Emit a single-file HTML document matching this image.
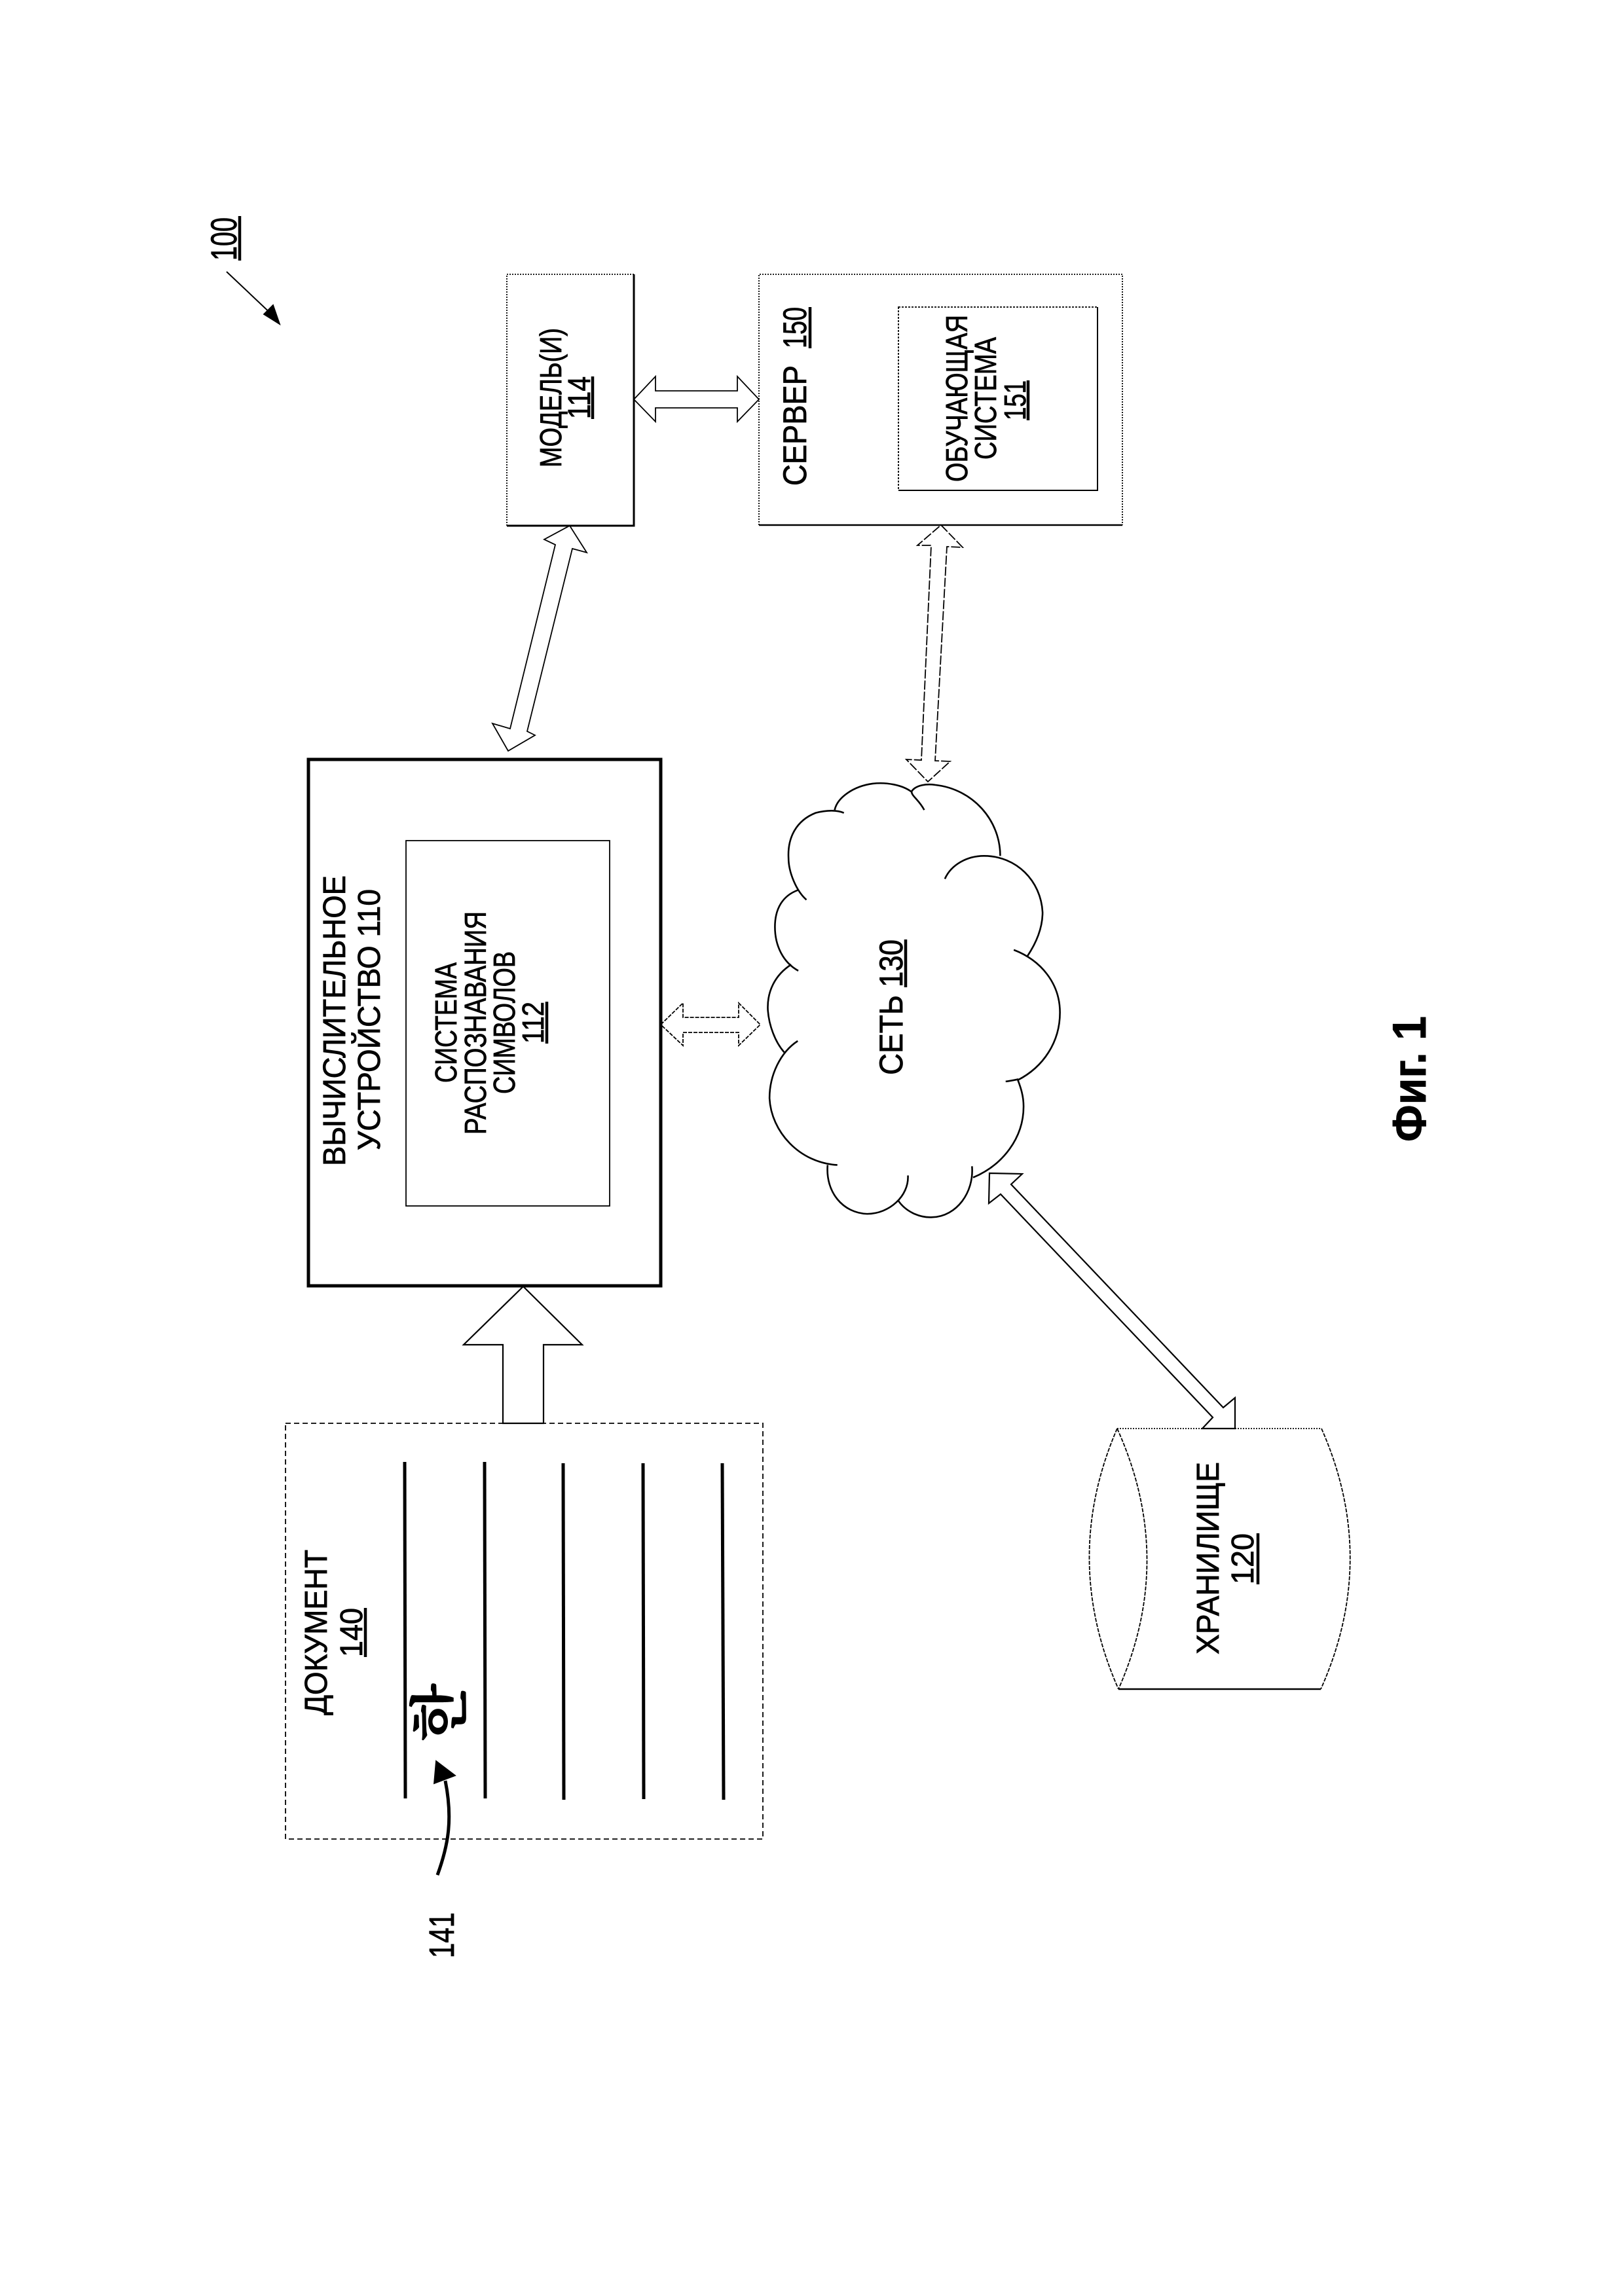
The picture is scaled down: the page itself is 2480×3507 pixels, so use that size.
<!DOCTYPE html>
<html><head><meta charset="utf-8"><style>
html,body{margin:0;padding:0;background:#fff}
svg{display:block}
text{font-family:"Liberation Sans","Noto Sans CJK KR",sans-serif;fill:#000;stroke:#000;stroke-width:.8}
</style></head><body>
<svg width="2480" height="3507" viewBox="0 0 2480 3507" xmlns="http://www.w3.org/2000/svg">
<rect width="2480" height="3507" fill="#fff"/>
<g fill="none" stroke="#000" stroke-width="1.8">
<!-- 100 arrow -->
<line x1="346" y1="415" x2="420" y2="485" stroke-width="2"/>
<polygon points="427,495 403,480 417,466" fill="#000"/>
<!-- model box -->
<path d="M774,803V419H968" stroke-dasharray="2 2"/>
<path d="M968,419V803H774" stroke-width="3"/>
<!-- server box -->
<path d="M1159,802V419H1714V802" stroke-dasharray="2 2"/>
<path d="M1159,802H1714" stroke-width="2.5"/>
<rect x="1372" y="469" width="304" height="280" stroke-dasharray="3 2"/>
<path d="M1676,469V749H1372" stroke-width="2"/>
<!-- computing device -->
<rect x="471" y="1160" width="538" height="804" stroke-width="5"/>
<rect x="620" y="1284" width="311" height="558" stroke-width="1.8"/>
<!-- arrows -->
<polygon points="968,610 1001,575 1001,597 1126,597 1126,575 1159,610 1126,644 1126,623 1001,623 1001,644"/>
<polygon points="870,803 896,844 874,838 805,1117 817,1123 776,1147 752,1105 779,1113 848,832 831,824"/>
<polygon points="1437,802 1470,836 1446,835 1428,1162 1451,1163 1417,1194 1384,1160 1407,1161 1422,833 1401,833" stroke-dasharray="14 3"/>
<polygon points="1009,1565 1043,1532 1043,1554 1128,1554 1128,1532 1161,1565 1128,1597 1128,1577 1043,1577 1043,1597" stroke-dasharray="6 2"/>
<polygon points="1511,1792 1561,1793 1544,1809 1868,2150 1886,2135 1886,2182 1836,2182 1852,2165 1528,1824 1510,1838" stroke-width="2.2"/>
<polygon points="799,1965 889,2054 830,2054 830,2174 768,2174 768,2054 708,2054" stroke-width="2.2"/>
<!-- cloud -->
<g transform="translate(400,1100) scale(.829,.638)" stroke-width="2.6">
<path vector-effect="non-scaling-stroke" d="M1220,215 C1210,190 1195,180 1197,170 C1205,155 1225,152 1240,155 C1310,165 1360,240 1360,325"/>
<path vector-effect="non-scaling-stroke" d="M1197,172 C1180,155 1150,148 1125,152 C1090,158 1060,185 1055,215"/>
<path vector-effect="non-scaling-stroke" d="M1072,222 C1060,215 1040,215 1020,222 C985,240 968,280 970,330 C970,365 985,410 1003,430"/>
<path vector-effect="non-scaling-stroke" d="M987,407 C960,420 945,450 945,495 C945,540 960,580 988,600"/>
<path vector-effect="non-scaling-stroke" d="M975,585 C945,610 930,650 932,695 C934,730 945,770 962,795"/>
<path vector-effect="non-scaling-stroke" d="M987,768 C955,795 935,850 935,905 C938,985 990,1060 1060,1065"/>
<path vector-effect="non-scaling-stroke" d="M1042,1065 C1038,1130 1070,1180 1115,1182 C1155,1182 1192,1140 1190,1090"/>
<path vector-effect="non-scaling-stroke" d="M1172,1150 C1185,1175 1210,1192 1235,1190 C1280,1188 1312,1130 1308,1068"/>
<path vector-effect="non-scaling-stroke" d="M1310,1095 C1365,1065 1403,1000 1403,925 C1403,900 1398,880 1392,860 C1385,862 1378,864 1370,865"/>
<path vector-effect="non-scaling-stroke" d="M1392,862 C1440,830 1470,770 1470,700 C1470,630 1435,575 1385,550"/>
<path vector-effect="non-scaling-stroke" d="M1410,565 C1428,530 1438,495 1438,460 C1435,385 1390,325 1330,325 C1300,325 1270,345 1258,380"/>
</g>
<!-- cylinder -->
<path d="M1706,2182H2018" stroke-dasharray="2 2"/>
<path d="M1708,2580H2017" stroke-width="2.6"/>
<path d="M2018,2182Q2106,2381 2017,2580" stroke-dasharray="6 2"/>
<path d="M1706,2182Q1620,2381 1708,2580" stroke-dasharray="6 2"/>
<path d="M1706,2182Q1796,2381 1708,2580" stroke-dasharray="6 2"/>
<!-- document -->
<rect x="436" y="2174" width="729" height="635" stroke-dasharray="8 5"/>
<g stroke-width="5">
<line x1="618" y1="2233" x2="619" y2="2747"/>
<line x1="740" y1="2233" x2="741" y2="2747"/>
<line x1="860" y1="2235" x2="861" y2="2749"/>
<line x1="982" y1="2235" x2="983" y2="2748"/>
<line x1="1103" y1="2235" x2="1105" y2="2749"/>
</g>
<path d="M668,2864 C684,2820 692,2780 680,2720" stroke-width="5"/>
<polygon points="666,2690 663,2724 695,2712" fill="#000"/>
<!-- underlines -->
<g stroke-width="4.5">
<line x1="366" y1="330" x2="366" y2="398"/>
<line x1="905" y1="575" x2="905" y2="640"/>
<line x1="1237" y1="469" x2="1237" y2="532"/>
<line x1="1570" y1="581" x2="1570" y2="642"/>
<line x1="835" y1="1530" x2="835" y2="1594"/>
<line x1="1383" y1="1435" x2="1383" y2="1508"/>
<line x1="558" y1="2456" x2="558" y2="2531"/>
<line x1="1921" y1="2342" x2="1921" y2="2420"/>
</g>
</g>
<g font-size="48">
<text transform="translate(361,398) rotate(-90)" font-size="56" textLength="66" lengthAdjust="spacingAndGlyphs">100</text>
<text transform="translate(857,714) rotate(-90)" font-size="46" textLength="213" lengthAdjust="spacingAndGlyphs">МОДЕЛЬ(И)</text>
<text transform="translate(901,640) rotate(-90)" font-size="48" textLength="65" lengthAdjust="spacingAndGlyphs">114</text>
<text transform="translate(1231,742) rotate(-90)" font-size="50" textLength="184" lengthAdjust="spacingAndGlyphs">СЕРВЕР</text>
<text transform="translate(1231,532) rotate(-90)" font-size="50" textLength="63" lengthAdjust="spacingAndGlyphs">150</text>
<text transform="translate(1477,736) rotate(-90)" font-size="46" textLength="255" lengthAdjust="spacingAndGlyphs">ОБУЧАЮЩАЯ</text>
<text transform="translate(1521,702) rotate(-90)" font-size="46" textLength="187" lengthAdjust="spacingAndGlyphs">СИСТЕМА</text>
<text transform="translate(1566,642) rotate(-90)" font-size="46" textLength="61" lengthAdjust="spacingAndGlyphs">151</text>
<text transform="translate(527,1781) rotate(-90)" textLength="444" lengthAdjust="spacingAndGlyphs">ВЫЧИСЛИТЕЛЬНОЕ</text>
<text transform="translate(580,1757) rotate(-90)" textLength="399" lengthAdjust="spacingAndGlyphs">УСТРОЙСТВО 110</text>
<text transform="translate(697,1654) rotate(-90)" font-size="46" textLength="184" lengthAdjust="spacingAndGlyphs">СИСТЕМА</text>
<text transform="translate(742,1733) rotate(-90)" font-size="46" textLength="341" lengthAdjust="spacingAndGlyphs">РАСПОЗНАВАНИЯ</text>
<text transform="translate(786,1671) rotate(-90)" font-size="46" textLength="218" lengthAdjust="spacingAndGlyphs">СИМВОЛОВ</text>
<text transform="translate(830,1594) rotate(-90)" font-size="46" textLength="64" lengthAdjust="spacingAndGlyphs">112</text>
<text transform="translate(1378,1642) rotate(-90)" font-size="50" textLength="122" lengthAdjust="spacingAndGlyphs">СЕТЬ</text>
<text transform="translate(1378,1508) rotate(-90)" font-size="50" textLength="73" lengthAdjust="spacingAndGlyphs">130</text>
<text transform="translate(499,2620) rotate(-90)" textLength="253" lengthAdjust="spacingAndGlyphs">ДОКУМЕНТ</text>
<text transform="translate(553,2531) rotate(-90)" textLength="75" lengthAdjust="spacingAndGlyphs">140</text>
<text transform="translate(693,2991) rotate(-90)" font-size="54" textLength="70" lengthAdjust="spacingAndGlyphs">141</text>
<text transform="translate(1861,2527) rotate(-90)" textLength="294" lengthAdjust="spacingAndGlyphs">ХРАНИЛИЩЕ</text>
<text transform="translate(1914,2420) rotate(-90)" textLength="78" lengthAdjust="spacingAndGlyphs">120</text>
<text transform="translate(2177,1744) rotate(-90)" font-size="72" font-weight="bold" textLength="192" lengthAdjust="spacingAndGlyphs">Фиг. 1</text>
<text transform="translate(704,2660) rotate(-90)" font-size="92" font-weight="bold" style="font-family:'Noto Serif CJK SC','Noto Sans CJK KR',sans-serif;stroke-width:0">한</text>
</g>
</svg>
</body></html>
